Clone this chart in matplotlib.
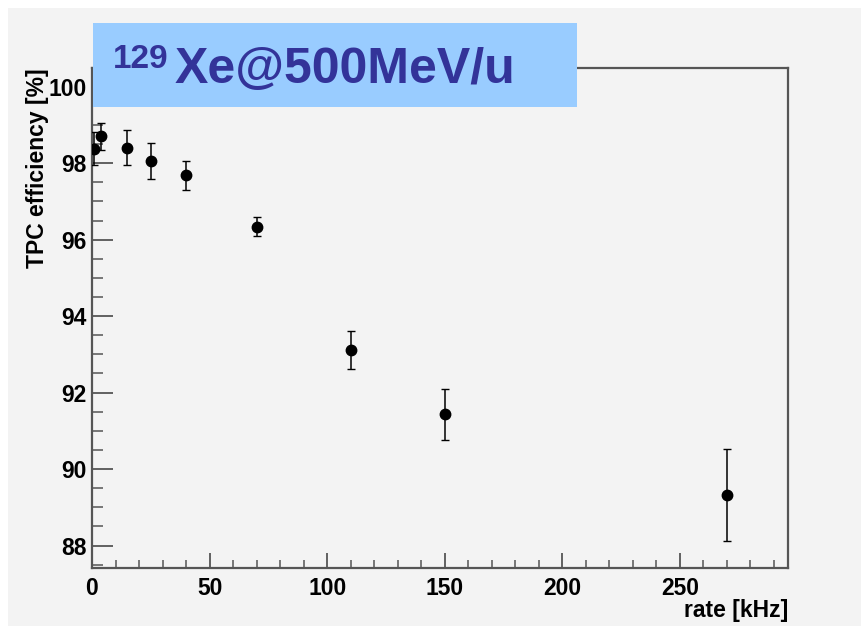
import matplotlib.pyplot as plt
from matplotlib.patches import Rectangle
from matplotlib.ticker import MultipleLocator

# TPC efficiency vs beam rate
rate = [1, 4, 15, 25, 40, 70, 110, 150, 270]
eff = [98.38, 98.70, 98.41, 98.06, 97.69, 96.34, 93.12, 91.43, 89.33]
eff_err = [0.44, 0.35, 0.45, 0.48, 0.38, 0.25, 0.50, 0.66, 1.20]

BG = '#f3f3f3'
FRAME = '#555555'
W, H = 861, 626

plt.rcParams['font.family'] = ['Liberation Sans', 'DejaVu Sans']
plt.rcParams['font.weight'] = 'bold'

fig = plt.figure(figsize=(W / 100, H / 100), dpi=100, facecolor='white')
fig.patches.append(Rectangle((8 / W, 0), 1, 1 - 8 / H, transform=fig.transFigure,
                             facecolor=BG, edgecolor='none', zorder=-10))

ax_left, ax_right, ax_top, ax_bot = 92, 788, 68, 567.7
ax = fig.add_axes([ax_left / W, 1 - ax_bot / H, (ax_right - ax_left) / W, (ax_bot - ax_top) / H])
ax.set_facecolor(BG)

ax.errorbar(rate, eff, yerr=eff_err, fmt='o', color='black', markersize=7.5,
            elinewidth=1.1, capsize=3, capthick=1.0, zorder=3)

ax.set_xlim(0, 296)
ax.set_ylim(87.42, 100.49)
ax.xaxis.set_major_locator(MultipleLocator(50))
ax.xaxis.set_minor_locator(MultipleLocator(10))
ax.yaxis.set_major_locator(MultipleLocator(2))
ax.yaxis.set_minor_locator(MultipleLocator(0.5))

ax.tick_params(axis='both', which='both', direction='in', color=FRAME,
               labelsize=16.5, top=False, right=False)
ax.tick_params(axis='y', which='major', length=15, width=1.3, pad=4)
ax.tick_params(axis='y', which='minor', length=8, width=1.1)
ax.tick_params(axis='x', which='major', length=11, width=1.3, pad=7)
ax.tick_params(axis='x', which='minor', length=6, width=1.1)
for lbl in ax.get_xticklabels() + ax.get_yticklabels():
    lbl.set_fontweight('bold')

for sp in ax.spines.values():
    sp.set_color(FRAME)
    sp.set_linewidth(1.6)

aw, ah = ax_right - ax_left, ax_bot - ax_top
ax.set_xlabel('rate [kHz]', fontsize=16.5, fontweight='bold', loc='right')
ax.xaxis.set_label_coords(1.0, -(599 - ax_bot) / ah)
ax.set_ylabel('TPC efficiency [%]', fontsize=16.5, fontweight='bold', loc='top')
ax.yaxis.set_label_coords(-(ax_left - 49) / aw, 1.0)

# title box
fig.patches.append(Rectangle((93 / W, 1 - 107 / H), (577 - 93) / W, (107 - 23) / H,
                             transform=fig.transFigure, facecolor='#99ccff',
                             edgecolor='none', zorder=5))
fig.text(113 / W, 1 - 68 / H, '129', fontsize=24, fontweight='bold', color='#333399',
         ha='left', va='baseline', zorder=6)
fig.text(175 / W, 1 - 83 / H, 'Xe@500MeV/u', fontsize=36, fontweight='bold', color='#333399',
         ha='left', va='baseline', zorder=6)

fig.savefig('out.png', dpi=100, facecolor=fig.get_facecolor())
